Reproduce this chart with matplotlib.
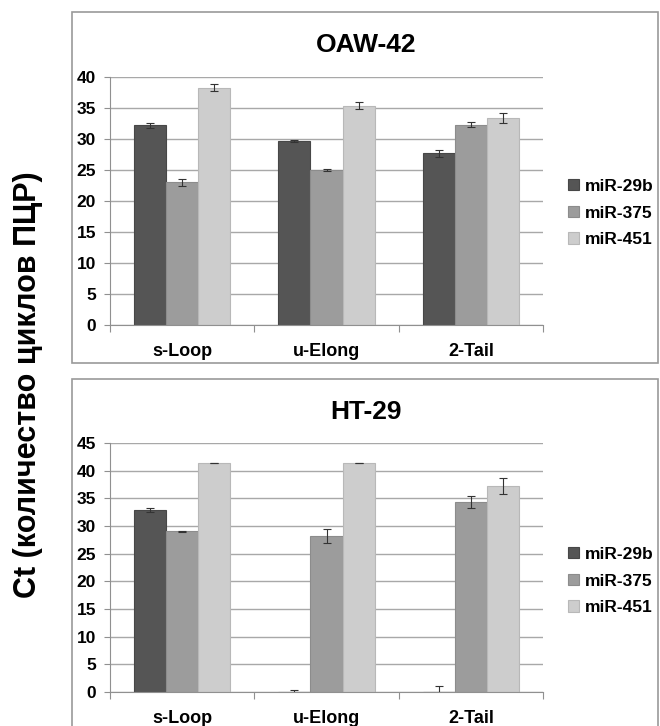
import numpy as np
import matplotlib
matplotlib.use('Agg')
import matplotlib.pyplot as plt
from matplotlib.patches import Rectangle

plt.rcParams['font.family'] = ['Liberation Sans', 'DejaVu Sans']
plt.rcParams['font.weight'] = 'bold'

categories = ['s-Loop', 'u-Elong', '2-Tail']
series = ['miR-29b', 'miR-375', 'miR-451']
colors = ['#555555', '#9c9c9c', '#cdcdcd']
edges = ['#474747', '#8c8c8c', '#b8b8b8']

# OAW-42
oaw_29b = [32.2, 29.7, 27.7]
oaw_29b_err = [0.4, 0.2, 0.6]
oaw_375 = [23.0, 25.0, 32.3]
oaw_375_err = [0.6, 0.1, 0.4]
oaw_451 = [38.3, 35.4, 33.4]
oaw_451_err = [0.5, 0.5, 0.8]

# HT-29
ht_29b = [32.9, 0.0, 0.0]
ht_29b_err = [0.3, 0.3, 1.15]
ht_375 = [29.05, 28.2, 34.3]
ht_375_err = [0.05, 1.2, 1.1]
ht_451 = [41.4, 41.4, 37.2]
ht_451_err = [0.05, 0.05, 1.4]

W, H = 660, 726
fig = plt.figure(figsize=(W / 100, H / 100), dpi=100)


def fx(px):
    return px / W


def fy(py):
    return 1 - py / H


def panel(rect, title, title_y, vals, errs, ymax, legend_y):
    ax = fig.add_axes(rect)
    x = np.arange(len(categories))
    w = 1 / 4.5
    for i, (v, e) in enumerate(zip(vals, errs)):
        pos = x + (i - 1) * w
        ax.bar(pos, v, width=w, color=colors[i], edgecolor=edges[i],
               linewidth=0.8, label=series[i], zorder=2)
        ax.errorbar(pos, v, yerr=e, fmt='none', ecolor='#333333',
                    elinewidth=0.8, capsize=3, capthick=0.8, zorder=3)
    ax.set_xlim(-0.5, len(categories) - 0.5)
    ax.set_ylim(0, ymax)
    ax.set_yticks(np.arange(0, ymax + 1, 5))
    ax.yaxis.grid(True, color='#a8a8a8', linewidth=1.0, zorder=0)
    ax.set_axisbelow(True)
    ax.set_xticks(np.arange(len(categories) + 1) - 0.5)
    ax.set_xticklabels([])
    ax.set_xticks(x, minor=True)
    ax.set_xticklabels(categories, minor=True)
    ax.tick_params(axis='x', which='major', length=5, color='#909090')
    ax.tick_params(axis='x', which='minor', length=0, pad=13, labelsize=13)
    ax.tick_params(axis='y', length=4, color='#909090', pad=6, labelsize=12.5)
    for s in ('top', 'right'):
        ax.spines[s].set_visible(False)
    for s in ('left', 'bottom'):
        ax.spines[s].set_color('#909090')
    fig.text(fx(366), fy(title_y), title, ha='center', va='center',
             fontsize=19, fontweight='bold')
    fig.legend(*ax.get_legend_handles_labels(), loc='center left',
               bbox_to_anchor=(fx(568), fy(legend_y)), frameon=False,
               fontsize=12.5, handlelength=0.65, handleheight=0.65,
               handletextpad=0.35, labelspacing=0.68, borderpad=0,
               borderaxespad=0)
    return ax


panel([fx(110), fy(325), fx(543) - fx(110), (325 - 77) / H], 'OAW-42', 45,
      [oaw_29b, oaw_375, oaw_451], [oaw_29b_err, oaw_375_err, oaw_451_err],
      40, 213)
panel([fx(110), fy(692), fx(543) - fx(110), (692 - 443) / H], 'HT-29', 412,
      [ht_29b, ht_375, ht_451], [ht_29b_err, ht_375_err, ht_451_err],
      45, 581)

# chart-area frames
fig.patches.append(Rectangle((fx(72), fy(363)), fx(658) - fx(72), (363 - 12) / H,
                             transform=fig.transFigure, fill=False,
                             edgecolor='#9a9a9a', linewidth=1.2))
fig.patches.append(Rectangle((fx(72), -0.05), fx(658) - fx(72), fy(379) + 0.05,
                             transform=fig.transFigure, fill=False,
                             edgecolor='#9a9a9a', linewidth=1.2))

fig.text(fx(28), fy(385), 'Ct (количество циклов ПЦР)', rotation=90,
         ha='center', va='center', fontsize=22, fontweight='bold')

fig.savefig('out.png', dpi=100)
